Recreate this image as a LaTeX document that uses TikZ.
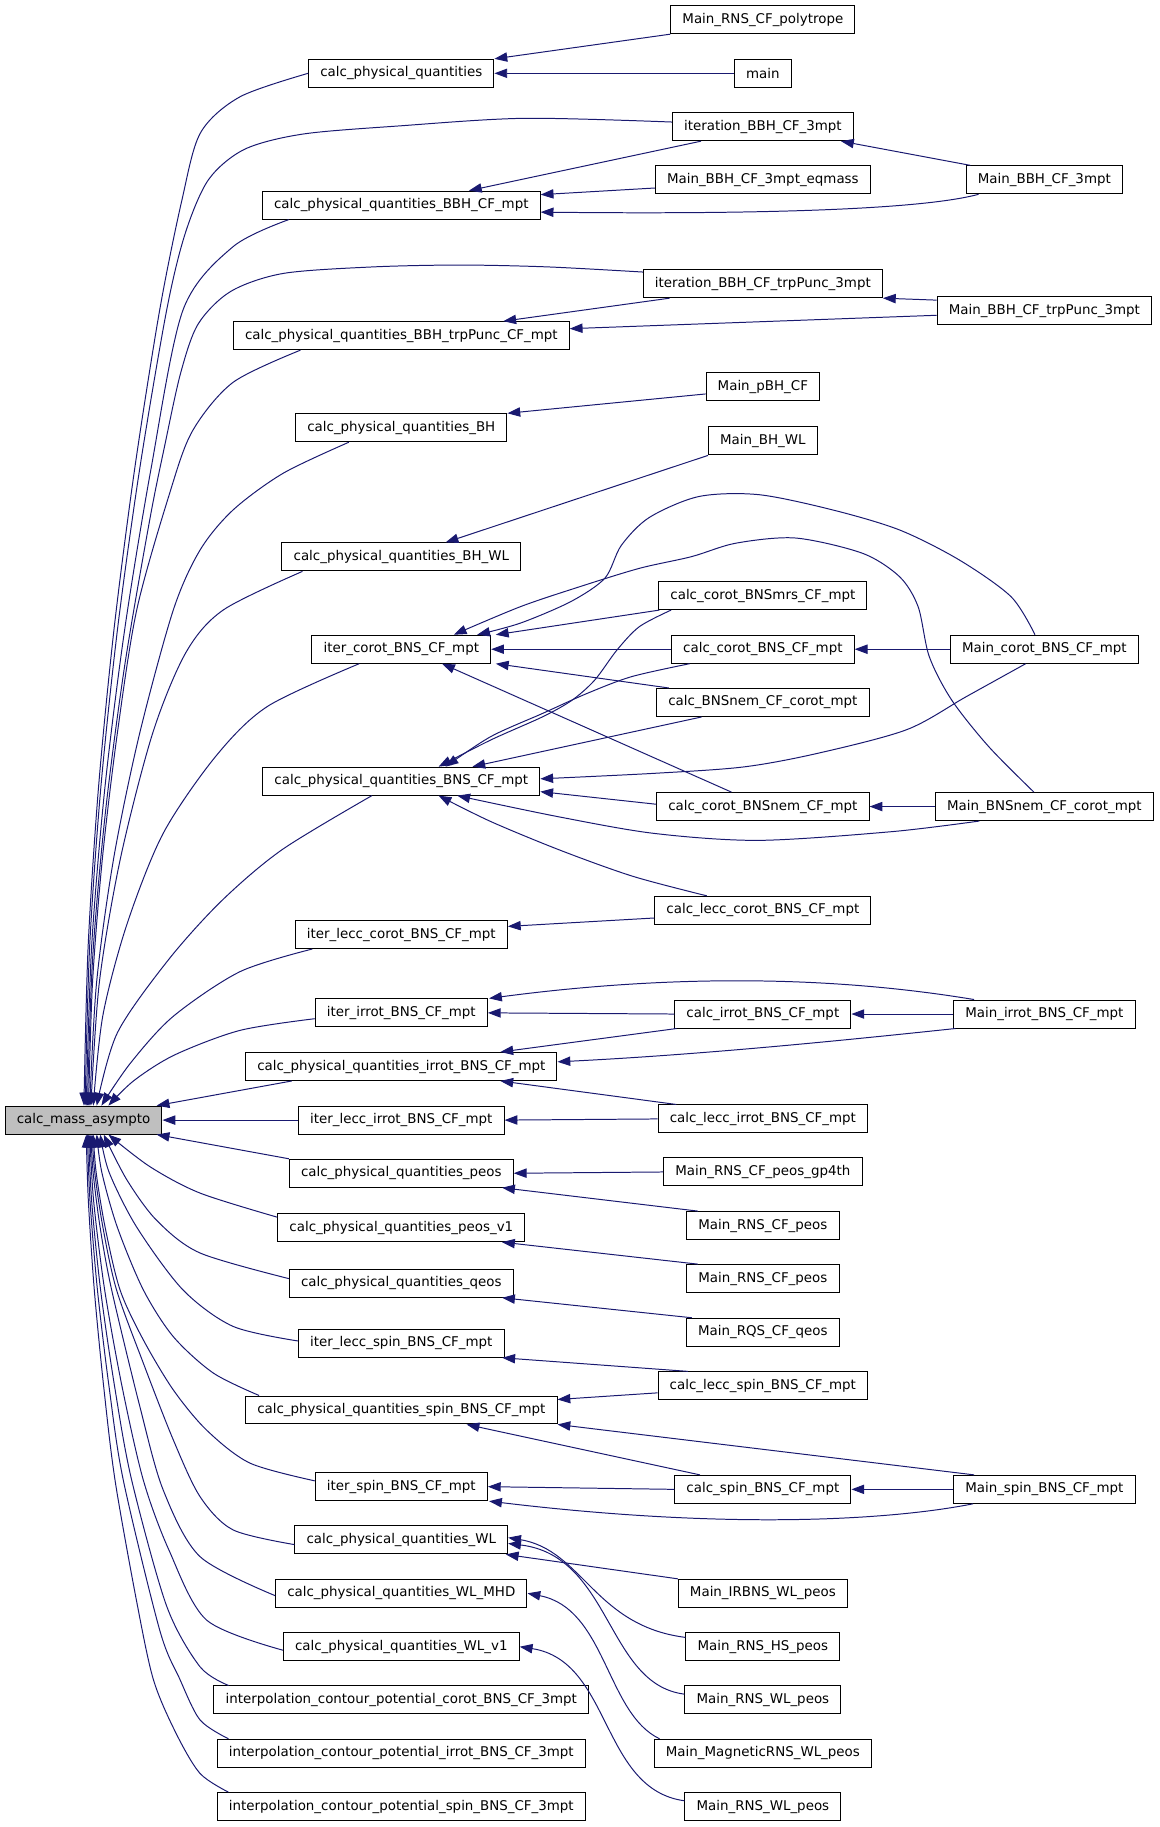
\documentclass[tikz,border=0pt]{standalone}
\usepackage{fontspec}
\usetikzlibrary{calc,arrows.meta}
\newfontfamily\djsans{DejaVu Sans}
\definecolor{mblue}{RGB}{25,25,112}
\definecolor{rootgrey}{RGB}{191,191,191}
\tikzset{
  box/.style={draw=black, fill=white, line width=0.85pt, inner xsep=10pt, inner ysep=0pt,
    minimum height=24pt, font={\djsans\fontsize{11.5}{13}\selectfont}},
  rootbox/.style={box, fill=rootgrey},
  e/.style={draw=mblue, line width=0.85pt, -{Triangle[length=11pt,width=8pt]}},
}
\begin{document}
\begin{tikzpicture}[x=1pt,y=-1pt]
\useasboundingbox (0,0) rectangle (995.2,1567.5);
% root
\node[rootbox] (cma) at (71.7,961) {calc\_mass\_asympto};
% middle column
\node[box] (m1) at (344.3,62.9) {calc\_physical\_quantities};
\node[box] (m2) at (344.3,176) {calc\_physical\_quantities\_BBH\_CF\_mpt};
\node[box] (m3) at (344.3,288) {calc\_physical\_quantities\_BBH\_trpPunc\_CF\_mpt};
\node[box] (m4) at (344.3,367) {calc\_physical\_quantities\_BH};
\node[box] (m5) at (344.3,477.8) {calc\_physical\_quantities\_BH\_WL};
\node[box] (m6) at (344.3,557) {iter\_corot\_BNS\_CF\_mpt};
\node[box] (m7) at (344.3,670.2) {calc\_physical\_quantities\_BNS\_CF\_mpt};
\node[box] (m8) at (344.3,801.8) {iter\_lecc\_corot\_BNS\_CF\_mpt};
\node[box] (m9) at (344.3,869) {iter\_irrot\_BNS\_CF\_mpt};
\node[box] (m10) at (344.3,915) {calc\_physical\_quantities\_irrot\_BNS\_CF\_mpt};
\node[box] (m11) at (344.3,961) {iter\_lecc\_irrot\_BNS\_CF\_mpt};
\node[box] (m12) at (344.3,1006.6) {calc\_physical\_quantities\_peos};
\node[box] (m13) at (344.3,1053.3) {calc\_physical\_quantities\_peos\_v1};
\node[box] (m14) at (344.3,1101) {calc\_physical\_quantities\_qeos};
\node[box] (m15) at (344.3,1152.5) {iter\_lecc\_spin\_BNS\_CF\_mpt};
\node[box] (m16) at (344.3,1209.7) {calc\_physical\_quantities\_spin\_BNS\_CF\_mpt};
\node[box] (m17) at (344.3,1275.5) {iter\_spin\_BNS\_CF\_mpt};
\node[box] (m18) at (344.3,1321.2) {calc\_physical\_quantities\_WL};
\node[box] (m19) at (344.3,1367) {calc\_physical\_quantities\_WL\_MHD};
\node[box] (m20) at (344.3,1412.8) {calc\_physical\_quantities\_WL\_v1};
\node[box] (m21) at (344.3,1458.5) {interpolation\_contour\_potential\_corot\_BNS\_CF\_3mpt};
\node[box] (m22) at (344.3,1504.2) {interpolation\_contour\_potential\_irrot\_BNS\_CF\_3mpt};
\node[box] (m23) at (344.3,1550) {interpolation\_contour\_potential\_spin\_BNS\_CF\_3mpt};
% third column
\node[box] (r1) at (654.5,16.9) {Main\_RNS\_CF\_polytrope};
\node[box] (r2) at (654.5,62.9) {main};
\node[box] (r3) at (654.5,108.7) {iteration\_BBH\_CF\_3mpt};
\node[box] (r4) at (654.5,154.3) {Main\_BBH\_CF\_3mpt\_eqmass};
\node[box] (r7) at (654.5,243.4) {iteration\_BBH\_CF\_trpPunc\_3mpt};
\node[box] (r10) at (654.5,332) {Main\_pBH\_CF};
\node[box] (r11) at (654.5,378.3) {Main\_BH\_WL};
\node[box] (r14) at (654.5,511) {calc\_corot\_BNSmrs\_CF\_mpt};
\node[box] (r15) at (654.5,557) {calc\_corot\_BNS\_CF\_mpt};
\node[box] (r16) at (654.5,602.7) {calc\_BNSnem\_CF\_corot\_mpt};
\node[box] (r17) at (654.5,692) {calc\_corot\_BNSnem\_CF\_mpt};
\node[box] (r24) at (654.5,781) {calc\_lecc\_corot\_BNS\_CF\_mpt};
\node[box] (r29) at (654.5,870) {calc\_irrot\_BNS\_CF\_mpt};
\node[box] (r33) at (654.5,960) {calc\_lecc\_irrot\_BNS\_CF\_mpt};
\node[box] (r35) at (654.5,1005.5) {Main\_RNS\_CF\_peos\_gp4th};
\node[box] (r36) at (654.5,1051.5) {Main\_RNS\_CF\_peos};
\node[box] (r37) at (654.5,1097) {Main\_RNS\_CF\_peos};
\node[box] (r38) at (654.5,1143) {Main\_RQS\_CF\_qeos};
\node[box] (r39) at (654.5,1189) {calc\_lecc\_spin\_BNS\_CF\_mpt};
\node[box] (r41) at (654.5,1277.8) {calc\_spin\_BNS\_CF\_mpt};
\node[box] (r46) at (654.5,1367) {Main\_IRBNS\_WL\_peos};
\node[box] (r47) at (654.5,1412.8) {Main\_RNS\_HS\_peos};
\node[box] (r48) at (654.5,1458.5) {Main\_RNS\_WL\_peos};
\node[box] (r49) at (654.5,1504.2) {Main\_MagneticRNS\_WL\_peos};
\node[box] (r50) at (654.5,1550) {Main\_RNS\_WL\_peos};
% fourth column
\node[box] (r5) at (896,154.3) {Main\_BBH\_CF\_3mpt};
\node[box] (r8) at (896,266.5) {Main\_BBH\_CF\_trpPunc\_3mpt};
\node[box] (r12) at (896,557) {Main\_corot\_BNS\_CF\_mpt};
\node[box] (r13) at (896,692) {Main\_BNSnem\_CF\_corot\_mpt};
\node[box] (r28) at (896,870) {Main\_irrot\_BNS\_CF\_mpt};
\node[box] (r42) at (896,1277.8) {Main\_spin\_BNS\_CF\_mpt};

% ---------- edges into calc_mass_asympto (upper) ----------
\draw[e] plot[smooth] coordinates {(m1.west) (206,83) (172,114) (156,172) (137,266) (115.5,402.6) (97.9,539.2) (84.5,675.8) (75.6,812.4) ($(cma.north)+(0.3,0)$)};
\draw[e] plot[smooth] coordinates {($(r3.west)+(0,-4)$) (450,101.5) (343,108) (260,115) (210,128) (179,154) (159,200) (143,266) (119.8,402.6) (100.9,539.2) (86.5,675.8) (76.9,812.4) ($(cma.north)+(1.3,0)$)};
\draw[e] plot[smooth] coordinates {($(m2.south west)+(23,0)$) (200,211.6) (157,266) (129.5,402.6) (107.1,539.2) (90,675.8) (78.6,812.4) ($(cma.north)+(2.3,0)$)};
\draw[e] plot[smooth] coordinates {($(r7.west)+(0,-10)$) (470,229) (395,227.4) (320,229) (243,234.6) (198,250) (170,278) (155,320) (141.2,382.9) (128.5,445.8) (106.9,571.6) (90.4,697.4) (79.4,823.2) ($(cma.north)+(3.3,0)$)};
\draw[e] plot[smooth] coordinates {($(m3.south west)+(58,0)$) (200,328) (165,370) (145,425) (117.3,523.3) (100.6,629.7) (87.9,736) (79.4,842.6) ($(cma.north)+(4.3,0)$)};
\draw[e] plot[smooth] coordinates {($(m4.south west)+(46,0)$) (243,406) (200,437.5) (171.6,472) (148.7,523.3) (119.7,629.7) (97.6,736) (82.9,842.6) ($(cma.north)+(5.3,0)$)};
\draw[e] plot[smooth] coordinates {($(m5.south west)+(18,0)$) (191.6,523.3) (159.4,560) (131,629) (103.5,735.7) (85.3,842.3) ($(cma.north)+(6.3,0)$)};
\draw[e] plot[smooth] coordinates {($(m6.south west)+(41,0)$) (229.6,606) (185,649) (140,715) (108.9,793) (88.3,871) ($(cma.north)+(8.3,0)$)};
\draw[e] plot[smooth] coordinates {($(m7.south west)+(94,0)$) (242,729) (190,773) (144.4,823.6) (100.6,886.3) ($(cma.north)+(11.3,0)$)};
\draw[e] plot[smooth] coordinates {($(m8.south west)+(15,0)$) (206,833.6) (148.6,872) (112,912) ($(cma.north)+(15.3,0)$)};
\draw[e] plot[smooth] coordinates {($(m9.west)+(0,5)$) (206,884) (150,905) (115,927) ($(cma.north)+(21.3,0)$)};
\draw[e] ($(m10.south west)+(40,0)$) -- ($(cma.north east)+(-5,0)$);
% ---------- edges into calc_mass_asympto (lower) ----------
\draw[e] (m11.west) -- (cma.east);
\draw[e] (m12.north west) -- ($(cma.south east)+(-5,0)$);
\draw[e] plot[smooth] coordinates {($(m13.west)+(0,-9)$) (171.6,1023.6) (128.7,1001) ($(cma.south)+(21.3,0)$)};
\draw[e] plot[smooth] coordinates {($(m14.west)+(0,-4)$) (171.6,1075) (134.4,1047) (108.7,1012) ($(cma.south)+(17.3,0)$)};
\draw[e] plot[smooth] coordinates {($(m15.west)+(0,-2)$) (200,1138) (157,1106.7) (117.4,1053) (93.7,1006) ($(cma.south)+(14.3,0)$)};
\draw[e] plot[smooth] coordinates {($(m16.north west)+(12,0)$) (183,1178) (148.7,1146.8) (123,1106.7) (100.7,1053) (87.4,1006) ($(cma.south)+(11.3,0)$)};
\draw[e] plot[smooth] coordinates {($(m17.west)+(0,-5)$) (214.5,1255.3) (177.3,1227) (148.7,1192.5) (123,1149.6) (103,1106.7) (90.2,1053) (82.5,1006) ($(cma.south)+(8.3,0)$)};
\draw[e] plot[smooth] coordinates {($(m18.west)+(0,4)$) (200,1312.6) (171.6,1284) (148.7,1235.4) (123,1169.6) (100,1106.7) (88.3,1053) (81.3,1006) ($(cma.south)+(7.3,0)$)};
\draw[e] plot[smooth] coordinates {($(m19.west)+(0,2)$) (171.6,1335.5) (140,1278.3) (120,1206.8) (95.8,1106.7) (85.9,1053) (79.9,1006) ($(cma.south)+(6.3,0)$)};
\draw[e] plot[smooth] coordinates {($(m20.west)+(0,3)$) (177.3,1390) (145,1330) (123,1270) (104.8,1190) (89.8,1106.7) (80.3,1030) ($(cma.south)+(5.3,0)$)};
\draw[e] plot[smooth] coordinates {($(m21.north west)+(13,0)$) (171.6,1430) (143,1378) (113,1270) (98.4,1190) (86.3,1106.7) (78.6,1030) ($(cma.south)+(4.3,0)$)};
\draw[e] plot[smooth] coordinates {($(m22.north west)+(10,0)$) (171.6,1475.6) (154,1440) (137,1398.5) (105.8,1270) (93.6,1190) (83.6,1106.7) (77.2,1030) ($(cma.south)+(3.3,0)$)};
\draw[e] plot[smooth] coordinates {($(m23.north west)+(10,0)$) (171.6,1521.5) (151,1487) (131.6,1441) (117,1372.7) (98.7,1270) (89,1190) (80.9,1106.7) (75.8,1030) ($(cma.south)+(2.3,0)$)};

% ---------- right side edges ----------
\draw[e] (r1.south west) -- (m1.north east);
\draw[e] (r2.west) -- (m1.east);
\draw[e] ($(r3.south west)+(25,0)$) -- ($(m2.north)+(58,0)$);
\draw[e] ($(r4.west)+(0,7)$) -- ($(m2.east)+(0,-9)$);
\draw[e] ($(r5.north west)+(4,0)$) -- ($(r3.south east)+(-11,0)$);
\draw[e] ($(r5.south west)+(11,0)$) .. controls (790,180) and (650,184) .. ($(m2.east)+(0,6)$);
\draw[e] ($(r7.south west)+(23,0)$) -- ($(m3.north east)+(-57,0)$);
\draw[e] ($(r8.west)+(0,-9)$) -- (r7.south east);
\draw[e] ($(r8.west)+(0,4)$) -- ($(m3.east)+(0,-6)$);
\draw[e] ($(r10.west)+(0,6)$) -- (m4.north east);
\draw[e] (r11.south west) -- ($(m5.north)+(38,0)$);
% BNS corot block
\draw[e] plot[smooth] coordinates {($(r12.north)+(-8,0)$) (867.5,512) (823,480.4) (771.8,454.7) (714.4,437.5) (651,424.4) (599.6,426) (557,444) (533,468) (519,496) (490,516) (446.5,534.6) ($(m6.north east)+(-12,0)$)};
\draw[e] plot[smooth] coordinates {($(r13.north)+(-9,0)$) (848.3,640.6) (816.5,600.6) (797.3,563.4) (787.7,520.5) (771.8,494.8) (740,474.7) (682.6,461.6) (631.5,466) (593.2,477.6) (548.6,487.6) (497.6,503.3) (446.5,520.5) ($(m6.north)+(45,0)$)};
\draw[e] ($(r14.south west)+(1,0)$) -- ($(m6.north east)+(4,0)$);
\draw[e] (r15.west) -- (m6.east);
\draw[e] ($(r16.north west)+(11,0)$) -- ($(m6.south east)+(4,0)$);
\draw[e] ($(r17.north)+(-27,0)$) -- ($(m6.south)+(35,0)$);
\draw[e] plot[smooth] coordinates {($(r14.south west)+(11,0)$) (548.6,537.6) (529.4,557.6) (510.3,583.4) (491,600.6) (465.7,614.9) (421,634.9) ($(m7.north)+(32,0)$)};
\draw[e] plot[smooth] coordinates {($(r15.south west)+(16,0)$) (542,580.5) (504,594.8) (465.7,612) (421,632) ($(m7.north)+(38,0)$)};
\draw[e] ($(r16.south west)+(39,0)$) -- ($(m7.north)+(61,0)$);
\draw[e] plot[smooth] coordinates {($(r12.south)+(-16,0)$) (829,597.7) (778,626) (701.6,646.3) (638,658) (561,663.5) ($(m7.east)+(0,-2)$)};
\draw[e] ($(r17.west)+(0,-2)$) -- ($(m7.east)+(0,9)$);
\draw[e] plot[smooth] coordinates {($(r13.south west)+(38,0)$) (765.4,713.5) (651,721) (561,715) (478.4,700.6) ($(m7.south)+(48,0)$)};
\draw[e] plot[smooth] coordinates {($(r24.north west)+(45,0)$) (543.5,752) (482,730) (421.4,705) ($(m7.south)+(32,0)$)};
\draw[e] (r12.west) -- (r15.east);
\draw[e] (r13.west) -- (r17.east);
\draw[e] ($(r24.west)+(0,6.6)$) -- ($(m8.east)+(0,-7)$);
% irrot block
\draw[e] ($(r28.north west)+(18,0)$) .. controls (700,835) and (560,838) .. ($(m9.north east)+(1,0)$);
\draw[e] (r29.west) -- (m9.east);
\draw[e] (r28.west) -- (r29.east);
\draw[e] ($(r29.south west)+(2,0)$) -- ($(m10.north east)+(-49,0)$);
\draw[e] ($(r28.south west)+(2,0)$) .. controls (720,893) and (600,905) .. ($(m10.east)+(0,-4)$);
\draw[e] ($(r33.north west)+(16,0)$) -- ($(m10.south east)+(-49,0)$);
\draw[e] (r33.west) -- (m11.east);
% eos block
\draw[e] (r35.west) -- (m12.east);
\draw[e] ($(r36.north west)+(10,0)$) -- ($(m12.south east)+(-10,0)$);
\draw[e] ($(r37.north west)+(10,0)$) -- ($(m13.south east)+(-20,0)$);
\draw[e] ($(r38.north west)+(5,0)$) -- ($(m14.south east)+(-10,0)$);
% spin block
\draw[e] ($(r39.north west)+(26,0)$) -- ($(m15.south east)+(-2,0)$);
\draw[e] ($(r39.west)+(0,6)$) -- ($(m16.east)+(0,-9)$);
\draw[e] ($(r41.north west)+(22,0)$) -- ($(m16.south)+(56,0)$);
\draw[e] ($(r42.north west)+(18,0)$) -- (m16.south east);
\draw[e] (r41.west) -- (m17.east);
\draw[e] ($(r42.south west)+(17,0)$) .. controls (760,1305) and (620,1312) .. ($(m17.south east)+(1,0)$);
\draw[e] (r42.west) -- (r41.east);
% WL block
\draw[e] (r46.north west) -- ($(m18.south east)+(-2,0)$);
\draw[e] ($(r47.west)+(0,-8)$) .. controls (510,1395) and (500,1330) .. ($(m18.east)+(0,-2)$);
\draw[e] ($(r48.west)+(0,-5)$) .. controls (520,1445) and (525,1335) .. ($(m18.east)+(0,3)$);
\draw[e] ($(r49.north west)+(5,0)$) .. controls (520,1470) and (520,1380) .. (m19.east);
\draw[e] ($(r50.west)+(0,-5)$) .. controls (515,1535) and (525,1425) .. (m20.east);
\end{tikzpicture}
\end{document}
